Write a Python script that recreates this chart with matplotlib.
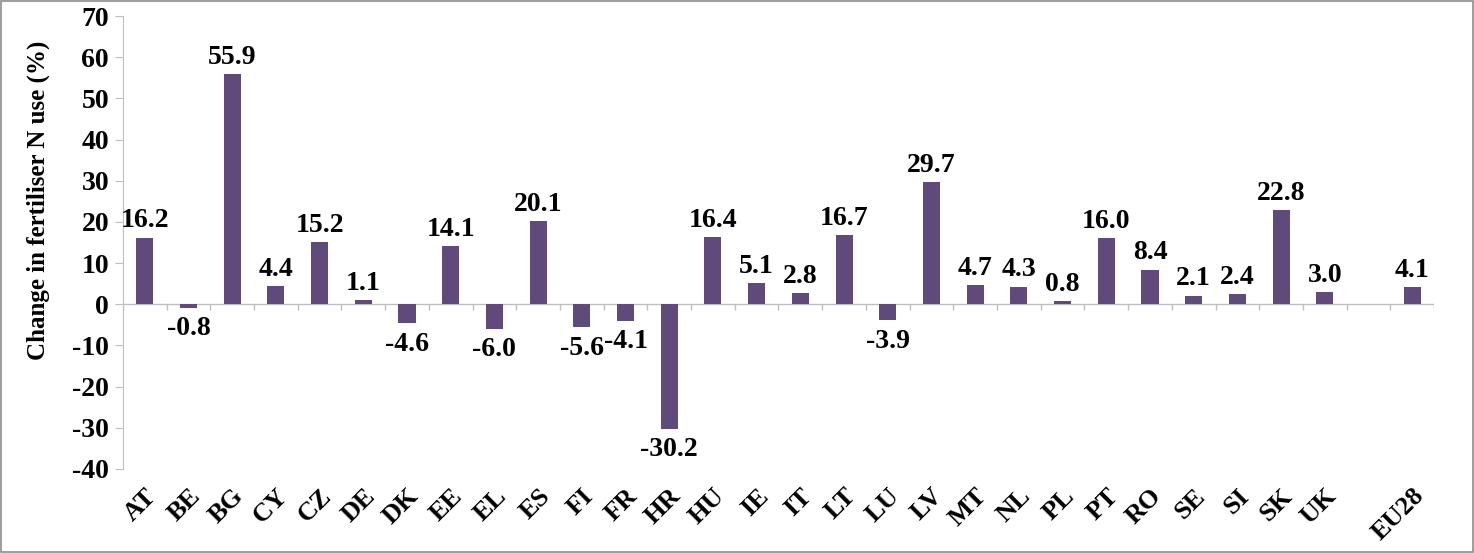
import matplotlib.pyplot as plt
from matplotlib.patches import Rectangle
import numpy as np

plt.rcParams['font.family'] = ['Liberation Serif', 'DejaVu Serif']
plt.rcParams['font.weight'] = 'bold'
plt.rcParams['axes.unicode_minus'] = False

# data
countries = ['AT', 'BE', 'BG', 'CY', 'CZ', 'DE', 'DK', 'EE', 'EL', 'ES',
             'FI', 'FR', 'HR', 'HU', 'IE', 'IT', 'LT', 'LU', 'LV', 'MT',
             'NL', 'PL', 'PT', 'RO', 'SE', 'SI', 'SK', 'UK', '', 'EU28']
change = [16.2, -0.8, 55.9, 4.4, 15.2, 1.1, -4.6, 14.1, -6.0, 20.1,
          -5.6, -4.1, -30.2, 16.4, 5.1, 2.8, 16.7, -3.9, 29.7, 4.7,
          4.3, 0.8, 16.0, 8.4, 2.1, 2.4, 22.8, 3.0, np.nan, 4.1]

C_BAR = '#5F4A7B'
C_AXIS = '#BFBFBF'

fig = plt.figure(figsize=(14.74, 5.53), dpi=100, facecolor='white')
ax = fig.add_axes([0.0834, 0.152, 0.8895, 0.819])

x = np.arange(len(countries))
ax.bar(x, change, width=0.39, color=C_BAR, zorder=3)

for xi, v in zip(x, change):
    if np.isnan(v):
        continue
    off = 3 if v >= 0 else -6
    ax.annotate(f'{v:.1f}', (xi, v), textcoords='offset points', xytext=(0, off),
                ha='center', va='bottom' if v >= 0 else 'top',
                fontsize=20, fontweight='bold', color='black')

ax.set_xlim(-0.5, len(countries) - 0.5)
ax.set_ylim(-40, 70)
ax.set_yticks(np.arange(-40, 71, 10))
ax.tick_params(axis='y', labelsize=20, length=6, color=C_AXIS, pad=4)

# x labels under the plot, zero line carries boundary ticks
ax.set_xticks(x)
ax.set_xticklabels(countries, rotation=45, ha='right', va='top',
                   rotation_mode='anchor', fontsize=19, fontweight='bold')
ax.tick_params(axis='x', length=0, pad=11)
ax.axhline(0, color=C_AXIS, linewidth=1, zorder=2)
bounds = np.arange(-0.5, len(countries), 1.0)
ax.vlines(bounds, -1.5, 0, color=C_AXIS, linewidth=1, zorder=2)

for s in ['top', 'right', 'bottom']:
    ax.spines[s].set_visible(False)
ax.spines['left'].set_color(C_AXIS)

ax.set_ylabel('Change in fertiliser N use (%)', fontsize=18, fontweight='bold')
ax.yaxis.set_label_coords(-0.056, 0.594)

# grey frame around the whole figure
fig.patches.append(Rectangle((0.001, 0.002), 0.998, 0.996, transform=fig.transFigure,
                             fill=False, edgecolor='#8C8C8C', linewidth=1.2))

plt.savefig('out.png', dpi=100, facecolor='white')
